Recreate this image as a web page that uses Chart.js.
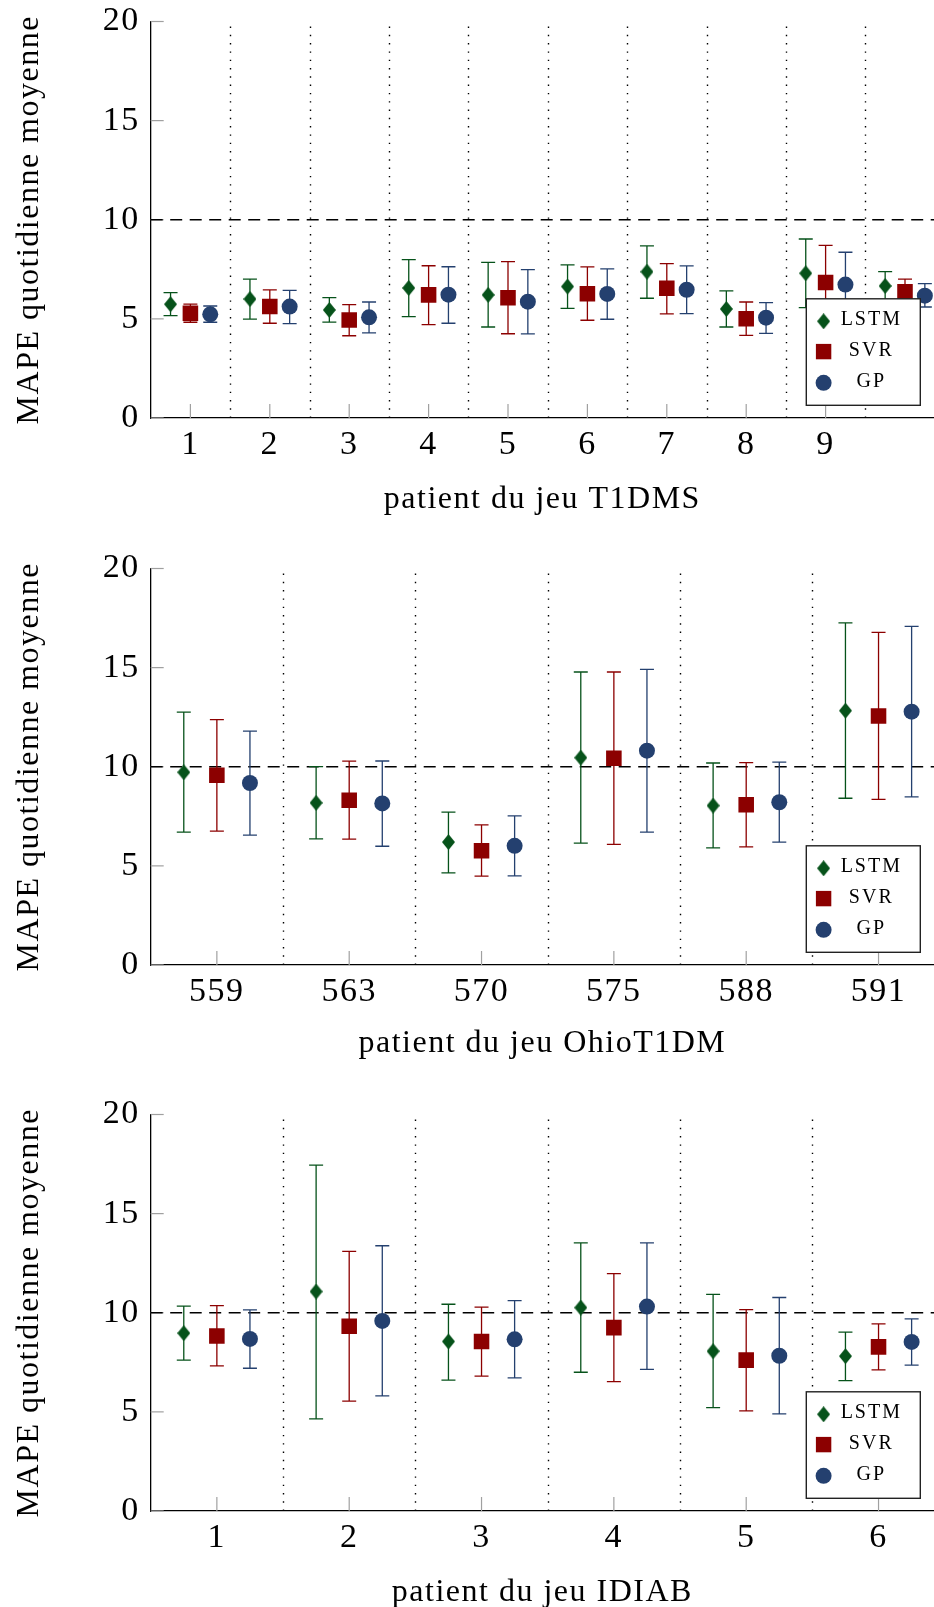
<!DOCTYPE html>
<html><head><meta charset="utf-8">
<script src="https://cdn.jsdelivr.net/npm/chart.js@4/dist/chart.umd.min.js"></script>
<style>
html,body{margin:0;padding:0;background:#fff;overflow:hidden;width:934px;height:1607px;}
#wrap{position:relative;width:934px;height:1607px;overflow:hidden;background:#fff;}
canvas{position:absolute;left:0;}
</style></head><body>
<div id="wrap">
<canvas id="c1" width="945" height="546" style="top:0px"></canvas>
<canvas id="c2" width="945" height="546" style="top:547px"></canvas>
<canvas id="c3" width="945" height="546" style="top:1093px"></canvas>
</div>
<script>
// ---------- DATA ----------
const seriesNames = ['LSTM', 'SVR', 'GP'];
const yTitle = 'MAPE quotidienne moyenne';

// T1DMS
const t1dmsPatients = ['1','2','3','4','5','6','7','8','9','10'];
const t1dmsTickValues = [1,2,3,4,5,6,7,8,9];
const t1dmsTickLabels = ['1','2','3','4','5','6','7','8','9'];
const t1dmsLstmMean = [5.74, 6.00, 5.45, 6.56, 6.21, 6.63, 7.38, 5.50, 7.30, 6.66];
const t1dmsLstmLow  = [5.16, 4.99, 4.84, 5.11, 4.59, 5.53, 6.04, 4.59, 5.57, 5.94];
const t1dmsLstmHigh = [6.32, 7.01, 6.07, 7.99, 7.85, 7.72, 8.68, 6.41, 9.03, 7.38];
const t1dmsSvrMean  = [5.28, 5.62, 4.94, 6.21, 6.07, 6.27, 6.54, 5.01, 6.83, 6.37];
const t1dmsSvrLow   = [4.83, 4.78, 4.15, 4.71, 4.25, 4.93, 5.25, 4.17, 4.95, 5.73];
const t1dmsSvrHigh  = [5.74, 6.46, 5.72, 7.68, 7.89, 7.62, 7.79, 5.85, 8.71, 7.01];
const t1dmsGpMean   = [5.23, 5.62, 5.08, 6.22, 5.87, 6.26, 6.47, 5.06, 6.73, 6.17];
const t1dmsGpLow    = [4.83, 4.76, 4.29, 4.78, 4.24, 4.98, 5.26, 4.27, 5.10, 5.60];
const t1dmsGpHigh   = [5.65, 6.44, 5.85, 7.63, 7.48, 7.52, 7.67, 5.82, 8.36, 6.78];

// OhioT1DM
const ohioPatients = ['559','563','570','575','588','591'];
const ohioTickValues = [1,2,3,4,5,6];
const ohioTickLabels = ['559','563','570','575','588','591'];
const ohioLstmMean = [9.72, 8.18, 6.20, 10.46, 8.04, 12.83];
const ohioLstmLow  = [6.70, 6.36, 4.65, 6.15, 5.91, 8.41];
const ohioLstmHigh = [12.76, 10.01, 7.71, 14.78, 10.19, 17.26];
const ohioSvrMean  = [9.57, 8.31, 5.76, 10.43, 8.08, 12.56];
const ohioSvrLow   = [6.75, 6.35, 4.48, 6.08, 5.96, 8.35];
const ohioSvrHigh  = [12.38, 10.28, 7.07, 14.78, 10.21, 16.78];
const ohioGpMean   = [9.18, 8.15, 6.01, 10.81, 8.21, 12.78];
const ohioGpLow    = [6.55, 5.99, 4.50, 6.70, 6.20, 8.48];
const ohioGpHigh   = [11.80, 10.29, 7.52, 14.91, 10.23, 17.08];

// IDIAB
const idiabPatients = ['1','2','3','4','5','6'];
const idiabTickValues = [1,2,3,4,5,6];
const idiabTickLabels = ['1','2','3','4','5','6'];
const idiabLstmMean = [8.97, 11.07, 8.55, 10.26, 8.06, 7.81];
const idiabLstmLow  = [7.61, 4.65, 6.60, 7.00, 5.21, 6.58];
const idiabLstmHigh = [10.33, 17.45, 10.43, 13.52, 10.93, 9.02];
const idiabSvrMean  = [8.83, 9.32, 8.55, 9.25, 7.61, 8.28];
const idiabSvrLow   = [7.32, 5.54, 6.80, 6.53, 5.05, 7.12];
const idiabSvrHigh  = [10.36, 13.10, 10.28, 11.97, 10.16, 9.44];
const idiabGpMean   = [8.68, 9.59, 8.66, 10.31, 7.83, 8.53];
const idiabGpLow    = [7.20, 5.81, 6.72, 7.14, 4.90, 7.36];
const idiabGpHigh   = [10.14, 13.38, 10.61, 13.52, 10.77, 9.69];

const referenceLine = 10;
const yTickValues = [0, 5, 10, 15, 20];

// ---------- STYLE / LAYOUT ----------
const FAMILY = "'Liberation Serif', 'DejaVu Serif', serif";
const seriesColors = ['#06521a', '#8c0000', '#24406f'];
const seriesShift = [-0.25, 0, 0.25];
// the original figure is cropped on the right: only this fraction of the x range is visible
const visibleFraction = 783.3 / 794;

function makeDiamond(w, h, color) {
  const c = document.createElement('canvas');
  c.width = w; c.height = h;
  const g = c.getContext('2d');
  g.fillStyle = color;
  g.beginPath();
  g.moveTo(w / 2, 0); g.lineTo(w, h / 2); g.lineTo(w / 2, h); g.lineTo(0, h / 2);
  g.closePath(); g.fill();
  return c;
}
const diamondImg = makeDiamond(13, 16, seriesColors[0]);
const markerStyles = [diamondImg, 'rect', 'circle'];
const markerRadius = [7.5, 11, 8];

const decorPlugin = {
  id: 'decor',
  beforeDraw(chart) {
    chart.ctx.letterSpacing = '1.5px';
  },
  beforeDatasetsDraw(chart) {
    const ctx = chart.ctx, xs = chart.scales.x, ys = chart.scales.y, a = chart.chartArea;
    const n = chart.options.plugins.decor.count;
    ctx.save();
    // dotted separators
    ctx.strokeStyle = '#000'; ctx.lineWidth = 1.4; ctx.setLineDash([1.4, 6.9]);
    for (let k = 1; k < n; k++) {
      const x = Math.round(xs.getPixelForValue(k + 0.5)) + 0.5;
      ctx.beginPath(); ctx.moveTo(x, a.bottom); ctx.lineTo(x, a.top); ctx.stroke();
    }
    // inward tick marks
    ctx.setLineDash([]); ctx.strokeStyle = '#a0a0a0'; ctx.lineWidth = 1.2;
    yTickValues.forEach(v => {
      const y = ys.getPixelForValue(v);
      ctx.beginPath(); ctx.moveTo(a.left, y); ctx.lineTo(a.left + 13, y); ctx.stroke();
    });
    xs.ticks.forEach(t => {
      const x = xs.getPixelForValue(t.value);
      ctx.beginPath(); ctx.moveTo(x, a.bottom); ctx.lineTo(x, a.bottom - 14); ctx.stroke();
    });
    // dashed reference line
    ctx.strokeStyle = '#000'; ctx.lineWidth = 1.5; ctx.setLineDash([12, 7.5]);
    const yr = ys.getPixelForValue(referenceLine);
    ctx.beginPath(); ctx.moveTo(a.left, yr); ctx.lineTo(a.right, yr); ctx.stroke();
    // error bars
    ctx.setLineDash([]); ctx.lineWidth = 1.3;
    chart.data.datasets.forEach(ds => {
      ctx.strokeStyle = ds.pointBackgroundColor;
      ds.data.forEach((p, i) => {
        const x = xs.getPixelForValue(p.x);
        const y1 = ys.getPixelForValue(ds.errLow[i]);
        const y2 = ys.getPixelForValue(ds.errHigh[i]);
        ctx.beginPath();
        ctx.moveTo(x, y1); ctx.lineTo(x, y2);
        ctx.moveTo(x - 7, y1); ctx.lineTo(x + 7, y1);
        ctx.moveTo(x - 7, y2); ctx.lineTo(x + 7, y2);
        ctx.stroke();
      });
    });
    ctx.restore();
  },
  afterDraw(chart) {
    const ctx = chart.ctx, a = chart.chartArea;
    const bw = 114, bh = 106.5;
    const bx = a.right - 13.7 - bw, by = a.bottom - 12.7 - bh;
    ctx.save();
    ctx.fillStyle = '#fff'; ctx.fillRect(bx, by, bw, bh);
    ctx.strokeStyle = '#222'; ctx.lineWidth = 1.4; ctx.strokeRect(bx, by, bw, bh);
    const rows = [21.5, 52.8, 84];
    const mx = bx + 17.3;
    // markers
    ctx.drawImage(diamondImg, mx - 6.5, by + rows[0] - 8 + 1, 13, 16);
    ctx.fillStyle = seriesColors[1];
    ctx.fillRect(mx - 7.7, by + rows[1] - 7.7, 15.4, 15.4);
    ctx.fillStyle = seriesColors[2];
    ctx.beginPath(); ctx.arc(mx, by + rows[2], 8, 0, Math.PI * 2); ctx.fill();
    // text
    ctx.fillStyle = '#000';
    ctx.font = '20px ' + FAMILY;
    ctx.letterSpacing = '2px';
    ctx.textAlign = 'center'; ctx.textBaseline = 'middle';
    seriesNames.forEach((s, k) => ctx.fillText(s, bx + 65, by + rows[k] - 1));
    ctx.restore();
  }
};

function buildChart(id, cfg) {
  const n = cfg.categories.length;
  const datasets = cfg.series.map((s, k) => ({
    label: seriesNames[k],
    data: cfg.categories.map((c, i) => ({ x: i + 1 + seriesShift[k], y: s.mean[i] })),
    errLow: s.low,
    errHigh: s.high,
    showLine: false,
    pointStyle: markerStyles[k],
    pointRadius: markerRadius[k],
    pointHoverRadius: markerRadius[k],
    pointBackgroundColor: seriesColors[k],
    pointBorderColor: seriesColors[k],
    pointBorderWidth: 0,
    backgroundColor: seriesColors[k],
    borderColor: seriesColors[k]
  }));
  return new Chart(document.getElementById(id), {
    type: 'scatter',
    data: { datasets },
    plugins: [decorPlugin],
    options: {
      responsive: false,
      animation: false,
      events: [],
      layout: { padding: { top: 21.5, right: 0, bottom: 0, left: 0 } },
      plugins: {
        legend: { display: false },
        tooltip: { enabled: false },
        decor: { count: n }
      },
      scales: {
        x: {
          type: 'linear',
          bounds: 'data',
          min: 0.5,
          max: 0.5 + n * visibleFraction,
          afterBuildTicks: sc => { sc.ticks = cfg.tickValues.map(v => ({ value: v })); },
          afterFit: sc => { sc.height = 128; sc.paddingLeft = 0; sc.paddingRight = 0; },
          grid: { display: false, drawTicks: false },
          border: { display: true, color: '#000', width: 1.3 },
          ticks: {
            autoSkip: false, maxRotation: 0, minRotation: 0,
            callback: (v, i) => cfg.tickLabels[i],
            font: { family: FAMILY, size: 34 },
            color: '#000',
            padding: 7
          },
          title: {
            display: true, text: cfg.xTitle,
            font: { family: FAMILY, size: 32 }, color: '#000',
            padding: { top: 0, bottom: cfg.titlePad }
          }
        },
        y: {
          type: 'linear',
          min: 0, max: 20,
          afterBuildTicks: sc => { sc.ticks = yTickValues.map(v => ({ value: v })); },
          afterFit: sc => { sc.width = 150.7; sc.paddingTop = 0; sc.paddingBottom = 0; },
          grid: { display: false, drawTicks: false },
          border: { display: true, color: '#000', width: 1.3 },
          ticks: {
            font: { family: FAMILY, size: 34 },
            color: '#000',
            padding: 11
          },
          title: {
            display: true, text: yTitle,
            font: { family: FAMILY, size: 32 }, color: '#000',
            padding: { top: 10.3, bottom: 0 }
          }
        }
      }
    }
  });
}

buildChart('c1', {
  categories: t1dmsPatients, tickValues: t1dmsTickValues, tickLabels: t1dmsTickLabels,
  xTitle: 'patient du jeu T1DMS', titlePad: 27.5,
  series: [
    { mean: t1dmsLstmMean, low: t1dmsLstmLow, high: t1dmsLstmHigh },
    { mean: t1dmsSvrMean, low: t1dmsSvrLow, high: t1dmsSvrHigh },
    { mean: t1dmsGpMean, low: t1dmsGpLow, high: t1dmsGpHigh }
  ]
});
buildChart('c2', {
  categories: ohioPatients, tickValues: ohioTickValues, tickLabels: ohioTickLabels,
  xTitle: 'patient du jeu OhioT1DM', titlePad: 30.5,
  series: [
    { mean: ohioLstmMean, low: ohioLstmLow, high: ohioLstmHigh },
    { mean: ohioSvrMean, low: ohioSvrLow, high: ohioSvrHigh },
    { mean: ohioGpMean, low: ohioGpLow, high: ohioGpHigh }
  ]
});
buildChart('c3', {
  categories: idiabPatients, tickValues: idiabTickValues, tickLabels: idiabTickLabels,
  xTitle: 'patient du jeu IDIAB', titlePad: 27.5,
  series: [
    { mean: idiabLstmMean, low: idiabLstmLow, high: idiabLstmHigh },
    { mean: idiabSvrMean, low: idiabSvrLow, high: idiabSvrHigh },
    { mean: idiabGpMean, low: idiabGpLow, high: idiabGpHigh }
  ]
});
</script>
</body></html>
